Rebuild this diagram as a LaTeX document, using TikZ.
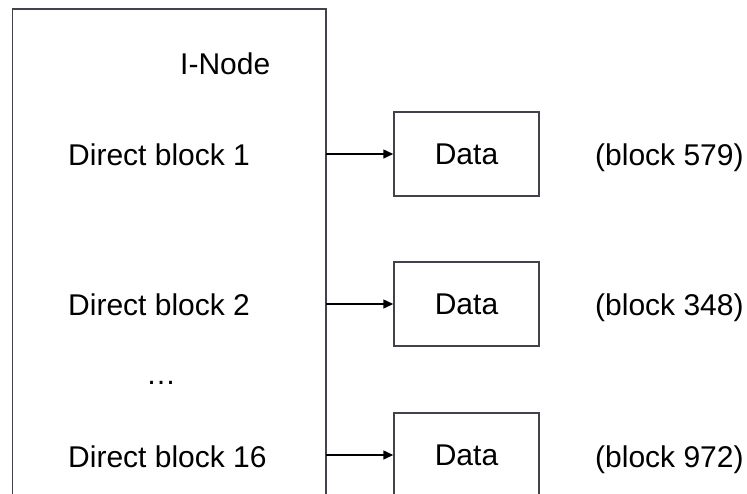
\documentclass[tikz,border=0pt]{standalone}
\usepackage{fontspec}
\setmainfont{Liberation Sans}
\usetikzlibrary{arrows.meta}
\definecolor{edgegray}{HTML}{404349}
\begin{document}
\begin{tikzpicture}[x=1pt,y=-1pt,
  lbl/.style={inner sep=0pt, font=\fontsize{30}{36}\selectfont, text=black},
  databox/.style={draw=edgegray, line width=1.5pt, minimum width=145pt, minimum height=84pt, inner sep=0pt, text height=21.5pt, text depth=0pt, font=\fontsize{30}{36}\selectfont},
  arr/.style={draw=black, line width=1.5pt, -{Triangle[length=10pt,width=9pt]}},
  frame/.style={draw=edgegray, line width=1.5pt}]
\useasboundingbox (0,0) rectangle (747,493);
\coordinate (bl) at (12.5,500);
\coordinate (tl) at (12.5,9);
\coordinate (tr) at (326,9);
\coordinate (br) at (326,500);
\draw[frame] (bl) -- (tl) -- (tr) -- (br);
\node[lbl, anchor=base west] (inode) at (180,74) {I-Node};
\node[lbl, anchor=base west] (r1) at (68,165) {Direct block 1};
\node[lbl, anchor=base west] (r2) at (68,315) {Direct block 2};
\node[lbl, anchor=base west] (dots) at (146,384) {…};
\node[lbl, anchor=base west] (r3) at (68,467) {Direct block 16};
\node[databox] (d1) at (466.5,154) {Data};
\node[databox] (d2) at (466.5,304) {Data};
\node[databox] (d3) at (466.5,455) {Data};
\node[lbl, anchor=base west] (b1) at (595,165) {(block 579)};
\node[lbl, anchor=base west] (b2) at (595,315) {(block 348)};
\node[lbl, anchor=base west] (b3) at (595,467) {(block 972)};
\draw[arr] (d1.west -| tr) -- (d1.west);
\draw[arr] (d2.west -| tr) -- (d2.west);
\draw[arr] (d3.west -| tr) -- (d3.west);
\end{tikzpicture}
\end{document}
